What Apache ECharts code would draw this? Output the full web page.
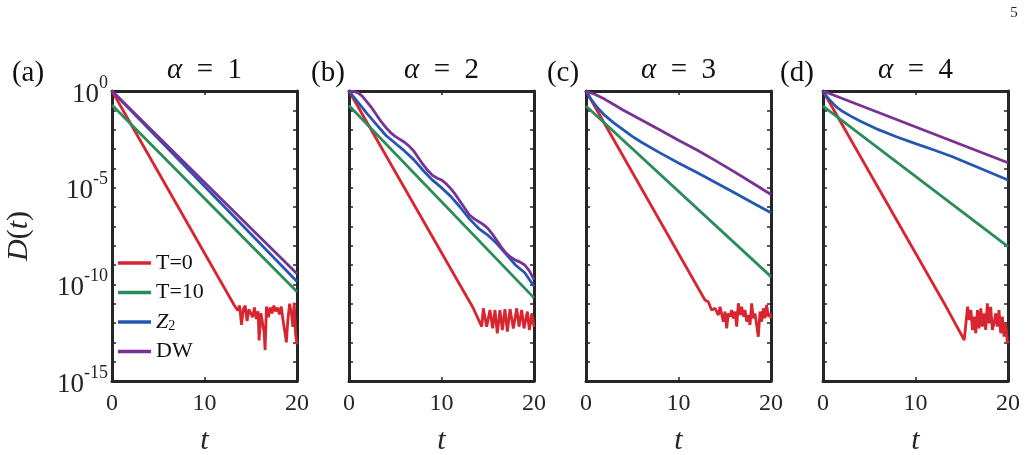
<!DOCTYPE html>
<html>
<head>
<meta charset="utf-8">
<script src="https://cdn.jsdelivr.net/npm/echarts@6/dist/echarts.min.js"></script>
<style>
  html, body { margin: 0; background: #fff; }
  #chart { width: 1028px; height: 455px; }
</style>
</head>
<body>
<div id="chart"></div>
<script>
// values are log10 D(t) as [t, log10 D]
const alphas = [1, 2, 3, 4];
const panelTags = ['(a)', '(b)', '(c)', '(d)'];
const seriesNames = ['T=0', 'T=10', 'Z2', 'DW'];
const seriesColors = ['#D9252F', '#2A8C58', '#2457B3', '#7A3196'];
const xTicks = [0, 10, 20];
const yLabelDecades = [0, -5, -10, -15];

// (a) alpha = 1
const redA = [[0,0],[13.2,-11.07],[13.4,-11.0],[13.6,-11.35],[13.8,-11.1],[14.0,-12.1],[14.2,-11.3],[14.4,-11.1],
  [14.6,-11.9],[14.8,-11.3],[15.0,-11.2],[15.2,-11.7],[15.4,-11.2],[15.6,-11.8],[15.8,-11.4],[15.9,-12.9],
  [16.1,-11.5],[16.3,-11.4],[16.45,-12.5],[16.55,-13.4],[16.7,-11.15],[16.9,-11.7],[17.1,-11.2],[17.3,-11.5],
  [17.5,-11.1],[17.7,-11.4],[17.9,-11.2],[18.1,-11.55],[18.3,-11.15],[18.5,-11.9],[18.7,-12.5],[18.85,-13.0],
  [19.0,-11.9],[19.2,-11.0],[19.4,-11.5],[19.55,-12.2],[19.7,-10.95],[19.85,-12.6],[20,-13.1]];
const greenA = [[0,-0.72],[20,-10.38]];
const blueA = [[0,0],[20,-9.85]];
const purpleA = [[0,0],[20,-9.45]];

// (b) alpha = 2
const redB = [[0,0],[13.44,-11.24],[14.35,-12.19],[14.52,-11.24],[14.88,-12.19],[15.24,-11.33],[15.53,-12.28],
  [15.78,-11.33],[16.03,-12.54],[16.32,-11.33],[16.58,-12.37],[16.86,-11.28],[17.12,-12.45],[17.41,-11.28],
  [17.77,-12.28],[18.13,-11.24],[18.38,-12.19],[18.67,-11.33],[18.92,-12.28],[19.28,-11.41],[19.5,-12.37],
  [19.75,-11.5],[20,-12.2]];
const greenB = [[0,-0.75],[20,-10.7]];
const blueB = [[0,0],[1,-0.6],[2,-1.2],[3,-1.75],[4,-2.3],[5,-2.7],[6,-3.1],[7,-3.55],[8,-4.1],[9,-4.6],
  [10,-5.0],[11,-5.45],[12,-6.0],[13,-6.6],[14,-7.1],[15,-7.45],[16,-7.9],[17,-8.45],[18,-9.0],[19,-9.4],[20,-10.1]];
const purpleB = [[0,0],[0.5,-0.02],[1,-0.1],[1.5,-0.3],[2,-0.6],[2.5,-0.9],[3,-1.25],[3.5,-1.6],[4,-1.9],
  [4.5,-2.15],[5,-2.35],[5.5,-2.5],[6,-2.65],[6.5,-2.85],[7,-3.1],[7.5,-3.45],[8,-3.8],[8.5,-4.1],[9,-4.35],
  [9.5,-4.5],[10,-4.6],[10.5,-4.8],[11,-5.05],[11.5,-5.35],[12,-5.7],[12.5,-6.05],[13,-6.4],[13.5,-6.6],
  [14,-6.75],[14.5,-6.9],[15,-7.1],[15.5,-7.4],[16,-7.75],[16.5,-8.1],[17,-8.4],[17.5,-8.6],[18,-8.75],
  [18.5,-8.85],[19,-9.0],[19.5,-9.3],[20,-9.75]];

// (c) alpha = 3
const redC = [[0,0],[12.86,-10.81],[13.22,-10.9],[13.57,-11.33],[13.95,-11.24],[14.31,-11.59],[14.49,-11.16],
  [14.85,-11.93],[15.03,-11.41],[15.21,-12.28],[15.39,-11.5],[15.57,-11.67],[15.75,-11.33],[15.93,-11.76],
  [16.11,-11.41],[16.29,-12.19],[16.47,-10.98],[16.65,-11.59],[16.83,-11.16],[17.01,-11.67],[17.19,-11.33],
  [17.37,-11.93],[17.55,-11.59],[17.73,-12.1],[17.91,-10.98],[18.09,-11.76],[18.27,-11.5],[18.45,-12.1],
  [18.63,-12.71],[18.81,-11.41],[18.99,-11.93],[19.17,-11.24],[19.35,-11.76],[19.53,-11.07],[19.71,-11.67],
  [19.89,-11.5],[20,-11.76]];
const greenC = [[0,-0.78],[20,-9.6]];
const blueC = [[0,0],[0.5,-0.4],[1,-0.72],[1.5,-1.0],[2,-1.25],[3,-1.65],[4,-2.0],[5,-2.35],[6,-2.65],
  [8,-3.2],[10,-3.72],[12,-4.22],[14,-4.73],[16,-5.25],[18,-5.78],[20,-6.3]];
const purpleC = [[0,0],[1,-0.18],[2,-0.42],[3,-0.7],[4,-0.98],[5,-1.24],[6,-1.5],[8,-2.02],[10,-2.55],
  [12,-3.05],[14,-3.6],[16,-4.17],[18,-4.76],[20,-5.35]];

// (d) alpha = 4
const redD = [[0,0],[13.3,-11.15],[13.5,-11.1],[15.27,-12.88],[15.63,-11.16],[15.81,-11.85],[15.99,-11.33],
  [16.16,-12.36],[16.34,-11.67],[16.52,-12.53],[16.7,-11.33],[16.88,-12.28],[17.06,-11.24],[17.23,-12.19],
  [17.41,-11.5],[17.59,-12.36],[17.77,-10.98],[17.96,-12.02],[18.13,-11.16],[18.31,-12.36],[18.49,-12.02],
  [18.67,-11.5],[18.85,-12.19],[19.03,-11.33],[19.21,-12.53],[19.39,-11.67],[19.57,-12.7],[19.75,-12.02],
  [19.93,-13.05],[20,-12.9]];
const greenD = [[0,-0.78],[20,-8.05]];
const blueD = [[0,0],[0.5,-0.35],[1,-0.6],[1.5,-0.85],[2,-1.02],[3,-1.3],[4,-1.55],[6,-2.0],[8,-2.38],
  [10,-2.72],[12,-3.05],[14,-3.4],[16,-3.8],[18,-4.2],[20,-4.6]];
const purpleD = [[0,0],[20,-3.71]];

const panelData = [
  [redA, greenA, blueA, purpleA],
  [redB, greenB, blueB, purpleB],
  [redC, greenC, blueC, purpleC],
  [redD, greenD, blueD, purpleD]
];

const serif = 'Liberation Serif';
const ink = '#262626';
const gridLeft = [112, 349, 586, 823];
const tagX = [28, 328, 563, 797];
const gridW = 185, gridTop = 91, gridH = 290;

const frame = { show: true, onZero: false, lineStyle: { color: ink, width: 3 } };
const tick = { show: true, inside: true, length: 4, lineStyle: { color: ink, width: 1.5 } };

let grids = [], xAxes = [], yAxes = [], series = [], graphics = [];

alphas.forEach(function (a, i) {
  grids.push({ left: gridLeft[i], top: gridTop, width: gridW, height: gridH,
    containLabel: false, outerBoundsMode: 'none' });
  // bottom and top x axes
  xAxes.push({
    gridIndex: i, type: 'value', min: 0, max: 20, interval: 10, position: 'bottom',
    axisLine: frame, axisTick: tick, splitLine: { show: false },
    axisLabel: { fontFamily: serif, fontSize: 24, color: ink, margin: 11,
      formatter: function (v) { return xTicks.indexOf(v) >= 0 ? String(v) : ''; } },
    name: 't', nameLocation: 'middle', nameGap: 45,
    nameTextStyle: { fontFamily: serif, fontStyle: 'italic', fontSize: 30, color: ink }
  });
  xAxes.push({
    gridIndex: i, type: 'value', min: 0, max: 20, interval: 10, position: 'top',
    axisLine: frame, axisTick: tick, splitLine: { show: false }, axisLabel: { show: false }
  });
  // left and right y axes (log10 scale)
  yAxes.push({
    gridIndex: i, type: 'value', min: -15, max: 0, interval: 1, position: 'left',
    axisLine: frame, axisTick: tick, splitLine: { show: false },
    axisLabel: {
      show: i === 0, margin: 4, fontFamily: serif, color: ink,
      formatter: function (v) {
        return yLabelDecades.indexOf(v) >= 0 ? '{b|10}{e|' + v + '}' : '';
      },
      rich: {
        b: { fontFamily: serif, fontSize: 27, color: ink, lineHeight: 34, verticalAlign: 'bottom' },
        e: { fontFamily: serif, fontSize: 18, color: ink, lineHeight: 18, verticalAlign: 'top' }
      }
    },
    name: i === 0 ? '{i|D}({i|t})' : '', nameLocation: 'middle', nameGap: 78, nameRotate: 90,
    nameTextStyle: { fontFamily: serif, fontSize: 30, color: ink,
      rich: { i: { fontFamily: serif, fontSize: 30, fontStyle: 'italic', color: ink } } }
  });
  yAxes.push({
    gridIndex: i, type: 'value', min: -15, max: 0, interval: 1, position: 'right',
    axisLine: frame, axisTick: tick, splitLine: { show: false }, axisLabel: { show: false }
  });

  panelData[i].forEach(function (d, k) {
    series.push({
      name: seriesNames[k], type: 'line', xAxisIndex: 2 * i, yAxisIndex: 2 * i,
      data: d, symbol: 'none', smooth: false,
      lineStyle: { color: seriesColors[k], width: 2.8 }, itemStyle: { color: seriesColors[k] },
      z: 2 + k, animation: false
    });
  });

  graphics.push({
    type: 'text', x: gridLeft[i] + gridW / 2, y: 70,
    style: { text: '{a|α}\u2002=\u2002' + a, textAlign: 'center', textVerticalAlign: 'middle',
      fontFamily: serif, fontSize: 29, fill: '#111',
      rich: { a: { fontFamily: serif, fontSize: 29, fontStyle: 'italic', fill: '#111' } } }
  });
  graphics.push({
    type: 'text', x: tagX[i], y: 73,
    style: { text: panelTags[i], textAlign: 'center', textVerticalAlign: 'middle',
      fontFamily: serif, fontSize: 29, fill: '#111' }
  });
});

graphics.push({
  type: 'text', x: 1014, y: 13,
  style: { text: '5', textAlign: 'center', textVerticalAlign: 'middle', fontFamily: serif, fontSize: 15, fill: '#222' }
});

const chart = echarts.init(document.getElementById('chart'));
chart.setOption({
  animation: false,
  grid: grids,
  xAxis: xAxes,
  yAxis: yAxes,
  series: series,
  graphic: graphics,
  legend: {
    data: seriesNames, orient: 'vertical', left: 118, top: 252, padding: 0,
    icon: 'rect', itemWidth: 33, itemHeight: 3.5, itemGap: 7.5,
    textStyle: { fontFamily: serif, fontSize: 22, lineHeight: 22, color: '#111',
      rich: {
        z: { fontFamily: serif, fontSize: 22, fontStyle: 'italic', color: '#111', lineHeight: 22 },
        s: { fontFamily: serif, fontSize: 14, color: '#111', lineHeight: 14, verticalAlign: 'bottom' }
      } },
    formatter: function (name) { return name === 'Z2' ? '{z|Z}{s|2}' : name; }
  }
});
</script>
</body>
</html>
